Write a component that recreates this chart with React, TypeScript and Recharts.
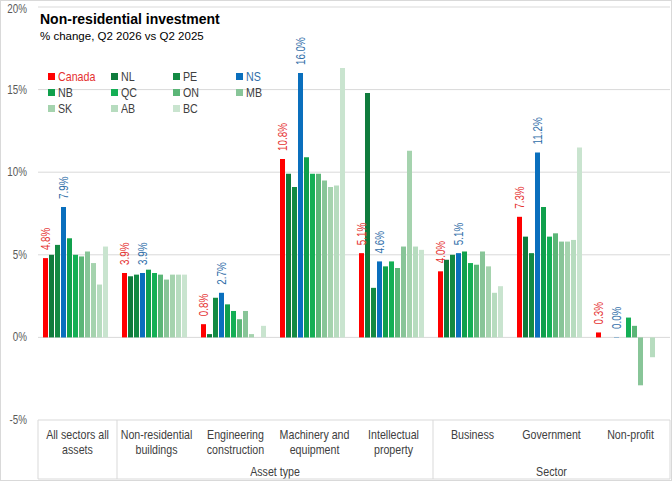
import React from "react";
import {Bar, BarChart, CartesianGrid, LabelList, Legend, XAxis, YAxis} from "recharts";

const categories = [
    "All sectors all\nassets",
    "Non-residential\nbuildings",
    "Engineering\nconstruction",
    "Machinery and\nequipment",
    "Intellectual\nproperty",
    "Business",
    "Government",
    "Non-profit",
];
const groups = [
    {label: "Asset type", from: 1, to: 4},
    {label: "Sector", from: 5, to: 7},
];
const yTicks = [-5, 0, 5, 10, 15, 20];

const canada = [4.8, 3.9, 0.8, 10.8, 5.1, 4.0, 7.3, 0.3];
const nl = [5.0, 3.7, 0.2, 9.9, 14.8, 4.7, 6.1, 0];
const pe = [5.6, 3.8, 2.4, 9.1, 3.0, 5.0, 5.1, 0];
const ns = [7.9, 3.9, 2.7, 16.0, 4.6, 5.1, 11.2, 0.02];
const nb = [6.0, 4.1, 2.0, 10.9, 4.3, 5.2, 7.9, 0];
const qc = [5.0, 3.9, 1.6, 9.9, 4.6, 4.5, 6.1, 1.2];
const on = [4.9, 3.8, 1.1, 9.9, 4.2, 4.4, 6.3, 0.7];
const mb = [5.2, 3.5, 1.6, 9.5, 5.5, 5.2, 5.8, -2.9];
const sk = [4.5, 3.8, 0.2, 9.1, 11.3, 4.3, 5.8, 0];
const ab = [3.2, 3.8, 0, 9.2, 5.5, 2.7, 5.9, -1.2];
const bc = [5.5, 3.8, 0.7, 16.3, 5.3, 3.1, 11.5, 0];

const series = [
    {key: "Canada", values: canada, color: "#ff0000", text: "#e5312f", labelled: true},
    {key: "NL", values: nl, color: "#0f7b3c", text: "#404040"},
    {key: "PE", values: pe, color: "#138a43", text: "#404040"},
    {key: "NS", values: ns, color: "#0a6fbd", text: "#2e6da8", labelled: true},
    {key: "NB", values: nb, color: "#10a04c", text: "#404040"},
    {key: "QC", values: qc, color: "#14af55", text: "#404040"},
    {key: "ON", values: on, color: "#5bb677", text: "#404040"},
    {key: "MB", values: mb, color: "#88c598", text: "#404040"},
    {key: "SK", values: sk, color: "#a5d3ae", text: "#404040"},
    {key: "AB", values: ab, color: "#b7dcbf", text: "#404040"},
    {key: "BC", values: bc, color: "#c9e4cf", text: "#404040"},
];

const data = categories.map((name, i) => {
    const row: any = {name};
    series.forEach(s => { row[s.key] = s.values[i]; });
    return row;
});

const FONT = '"Liberation Sans", Arial, sans-serif';
const SQUEEZE = 0.82;

// narrow text, squeezed horizontally round its anchor point
const NarrowText = ({x, y, rotate = 0, children, ...rest}: any) => (
    <text x={0} y={0} transform={`translate(${x} ${y}) rotate(${rotate}) scale(${SQUEEZE} 1)`}
          fontFamily={FONT} {...rest}>{children}</text>
);

const CategoryTick = (props: any) => {
    const {x, y, payload, index} = props;
    const band = (payload.offset || 39.5) * 2;
    const half = band / 2;
    const lines = categories[index].split("\n");
    const bottom = y + 59;
    const starts = [0, ...groups.map(g => g.from)];
    const group = groups.find(g => g.from === index);
    return (
        <g>
            {lines.map((l, i) => (
                <NarrowText key={i} x={x} y={y + 19 + i * 15} textAnchor="middle" fill="#404040"
                            fontSize={13}>{l}</NarrowText>
            ))}
            {starts.includes(index) && <line x1={x - half} x2={x - half} y1={y} y2={bottom} stroke="#d9d9d9"/>}
            {index === categories.length - 1 && <line x1={x + half} x2={x + half} y1={y} y2={bottom} stroke="#d9d9d9"/>}
            <line x1={x - half} x2={x + half} y1={bottom} y2={bottom} stroke="#d9d9d9"/>
            {group && (
                <NarrowText x={x + ((group.from + group.to) / 2 - index) * band} y={y + 56} textAnchor="middle"
                            fill="#404040" fontSize={13}>{group.label}</NarrowText>
            )}
        </g>
    );
};

const ValueTick = (props: any) => {
    const {x, y, payload} = props;
    return (
        <NarrowText x={x} y={y + 4} textAnchor="end" fill="#595959" fontSize={12}>{`${payload.value}%`}</NarrowText>
    );
};

const makeLabel = (color: string) => (props: any) => {
    const {x, y, width, value} = props;
    return (
        <NarrowText x={x + width / 2 + 4} y={y - 8} rotate={-90} textAnchor="start" fill={color}
                    fontSize={12}>{`${Number(value).toFixed(1)}%`}</NarrowText>
    );
};

const order = series.map(s => s.key);

const renderLegend = (props: any) => {
    const items = [...(props.payload || [])].sort((a: any, b: any) => order.indexOf(a.value) - order.indexOf(b.value));
    return (
        <div style={{display: "grid", gridTemplateColumns: "repeat(4, 62.5px)", fontFamily: FONT, fontSize: 13}}>
            {items.map((p: any) => {
                const s = series.find(v => v.key === p.value);
                return (
                    <div key={p.value} style={{display: "flex", alignItems: "center", height: 16}}>
                        <span style={{width: 7, height: 7, background: p.color, marginRight: 3, flex: "none"}}/>
                        <span style={{color: s ? s.text : "#404040", display: "inline-block",
                            transform: `scaleX(${SQUEEZE})`, transformOrigin: "left center"}}>{p.value}</span>
                    </div>
                );
            })}
        </div>
    );
};

const App = () => {
    return (
        <div style={{position: "absolute", left: 0, top: 0, width: 672, height: 481, background: "#fff",
            outline: "1px solid #d9d9d9", outlineOffset: -1}}>
            <BarChart width={672} height={481} data={data} margin={{top: 7, right: 2, left: 0, bottom: 0}}
                      barCategoryGap={5} barGap={1}>
                <CartesianGrid vertical={false} stroke="#d9d9d9"/>
                <XAxis dataKey="name" height={61} tick={<CategoryTick/>} tickLine={false} axisLine={false}
                       tickSize={0} tickMargin={0} interval={0}/>
                <YAxis domain={[-5, 20]} ticks={yTicks} width={38} tickLine={false} axisLine={false}
                       tickSize={0} tickMargin={11} tick={<ValueTick/>}/>
                <Legend layout="vertical" align="center" verticalAlign="middle" content={renderLegend}
                        wrapperStyle={{top: 68, left: 48, width: 260}}/>
                {series.map(s => (
                    <Bar key={s.key} dataKey={s.key} fill={s.color} isAnimationActive={false}>
                        {s.labelled && <LabelList dataKey={s.key} content={makeLabel(s.text)}/>}
                    </Bar>
                ))}
            </BarChart>
            <div style={{position: "absolute", left: 40, top: 11, fontFamily: FONT, fontWeight: "bold",
                fontSize: 14, color: "#000", whiteSpace: "nowrap"}}>Non-residential investment
            </div>
            <div style={{position: "absolute", left: 40, top: 30, fontFamily: FONT, fontSize: 11.5,
                color: "#000", whiteSpace: "nowrap"}}>% change, Q2 2026 vs Q2 2025
            </div>
        </div>
    );
};

export default App;
